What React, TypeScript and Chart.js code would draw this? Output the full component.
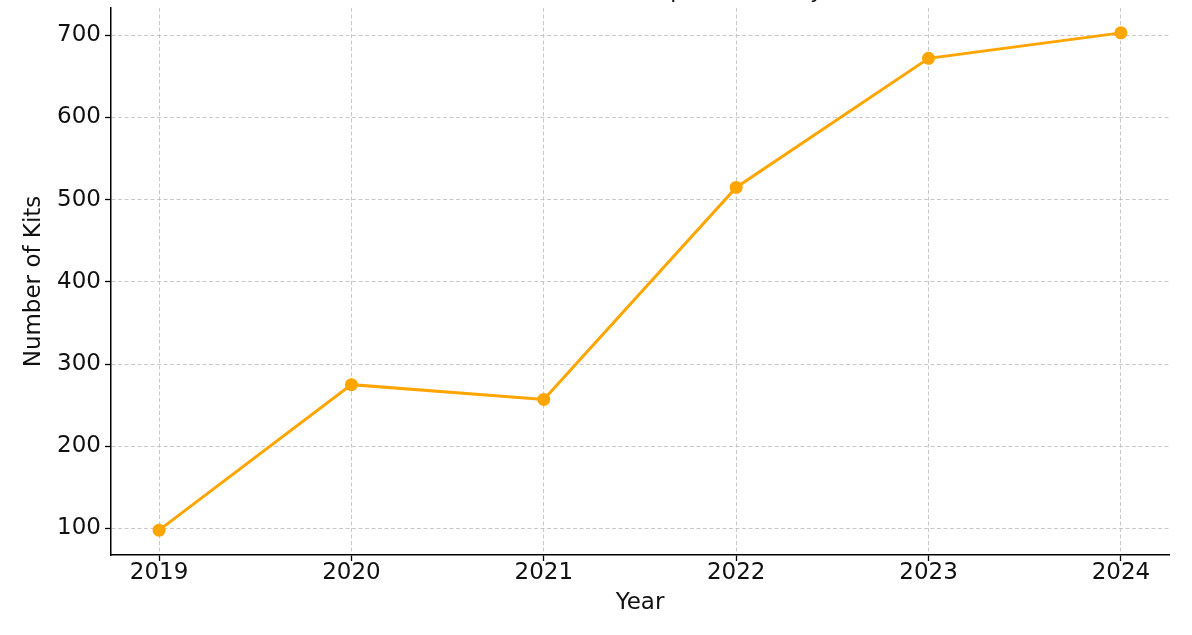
import React, { useEffect, useRef } from "react";
import { Chart, registerables } from "chart.js";

Chart.register(...registerables);

const years = [2019, 2020, 2021, 2022, 2023, 2024];
const kits = [98, 275, 257, 515, 672, 703];
const yTicks = [100, 200, 300, 400, 500, 600, 700];
const titleText = "Number of Kits Adopted Annually";
const xTitle = "Year";
const yTitle = "Number of Kits";

const FONT = "'DejaVu Sans', sans-serif";

export default function App() {
  const ref = useRef<HTMLCanvasElement | null>(null);

  useEffect(() => {
    if (!ref.current) return;
    const dMin = Math.min(...kits);
    const dMax = Math.max(...kits);
    const yPad = (dMax - dMin) * 0.05;
    const xPad = (years[years.length - 1] - years[0]) * 0.05;

    const titlePlugin = {
      id: "clippedTitle",
      afterDraw(chart: any) {
        const { ctx, chartArea } = chart;
        ctx.save();
        ctx.font = `22px ${FONT}`;
        ctx.fillStyle = "#111";
        ctx.textAlign = "center";
        ctx.textBaseline = "alphabetic";
        ctx.fillText(titleText, (chartArea.left + chartArea.right) / 2, 20);
        ctx.restore();
      },
    };

    const gridOpts = {
      color: "rgba(190,190,190,0.85)",
      lineWidth: 1,
      tickColor: "#000",
      tickLength: 6,
      tickWidth: 1.3,
      tickBorderDash: [],
    };
    const borderOpts = { display: true, color: "#000", width: 1.5, dash: [4, 2.5] };

    const chart = new Chart(ref.current, {
      type: "line",
      data: {
        datasets: [
          {
            data: years.map((y, i) => ({ x: y, y: kits[i] })),
            borderColor: "#FFA500",
            backgroundColor: "#FFA500",
            borderWidth: 3,
            pointRadius: 6.5,
            pointBorderWidth: 0,
            pointBackgroundColor: "#FFA500",
            tension: 0,
          },
        ],
      },
      options: {
        animation: false,
        responsive: false,
        devicePixelRatio: 1,
        layout: { padding: { top: 30, right: 23, left: 0, bottom: 0 } },
        plugins: {
          legend: { display: false },
          title: { display: false },
          tooltip: { enabled: false },
        },
        scales: {
          x: {
            type: "linear",
            min: years[0] - xPad,
            max: years[years.length - 1] + xPad,
            afterBuildTicks: (axis: any) => {
              axis.ticks = years.map((v) => ({ value: v }));
            },
            afterFit: (scale: any) => {
              scale.height = 80;
            },
            ticks: {
              color: "#111",
              font: { family: FONT, size: 23, lineHeight: 1 },
              padding: 1,
              maxRotation: 0,
              autoSkip: false,
              callback: (v: any) => String(v),
            },
            grid: gridOpts,
            border: borderOpts,
            title: {
              display: true,
              text: xTitle,
              color: "#111",
              font: { family: FONT, size: 23 },
              padding: { top: 0, bottom: 18 },
            },
          },
          y: {
            type: "linear",
            min: dMin - yPad,
            max: dMax + yPad,
            afterBuildTicks: (axis: any) => {
              axis.ticks = yTicks.map((v) => ({ value: v }));
            },
            afterFit: (scale: any) => {
              scale.width = 111;
            },
            ticks: {
              color: "#111",
              font: { family: FONT, size: 23 },
              padding: 4,
              callback: (v: any) => String(v),
            },
            grid: gridOpts,
            border: borderOpts,
            title: {
              display: true,
              text: yTitle,
              color: "#111",
              font: { family: FONT, size: 23 },
              padding: { top: 20, bottom: 0 },
            },
          },
        },
      },
      plugins: [titlePlugin],
    });
    return () => chart.destroy();
  }, []);

  return (
    <div style={{ position: "absolute", top: -22, left: 0, width: 1192, height: 657 }}>
      <canvas ref={ref} width={1192} height={657} style={{ display: "block" }} />
    </div>
  );
}
